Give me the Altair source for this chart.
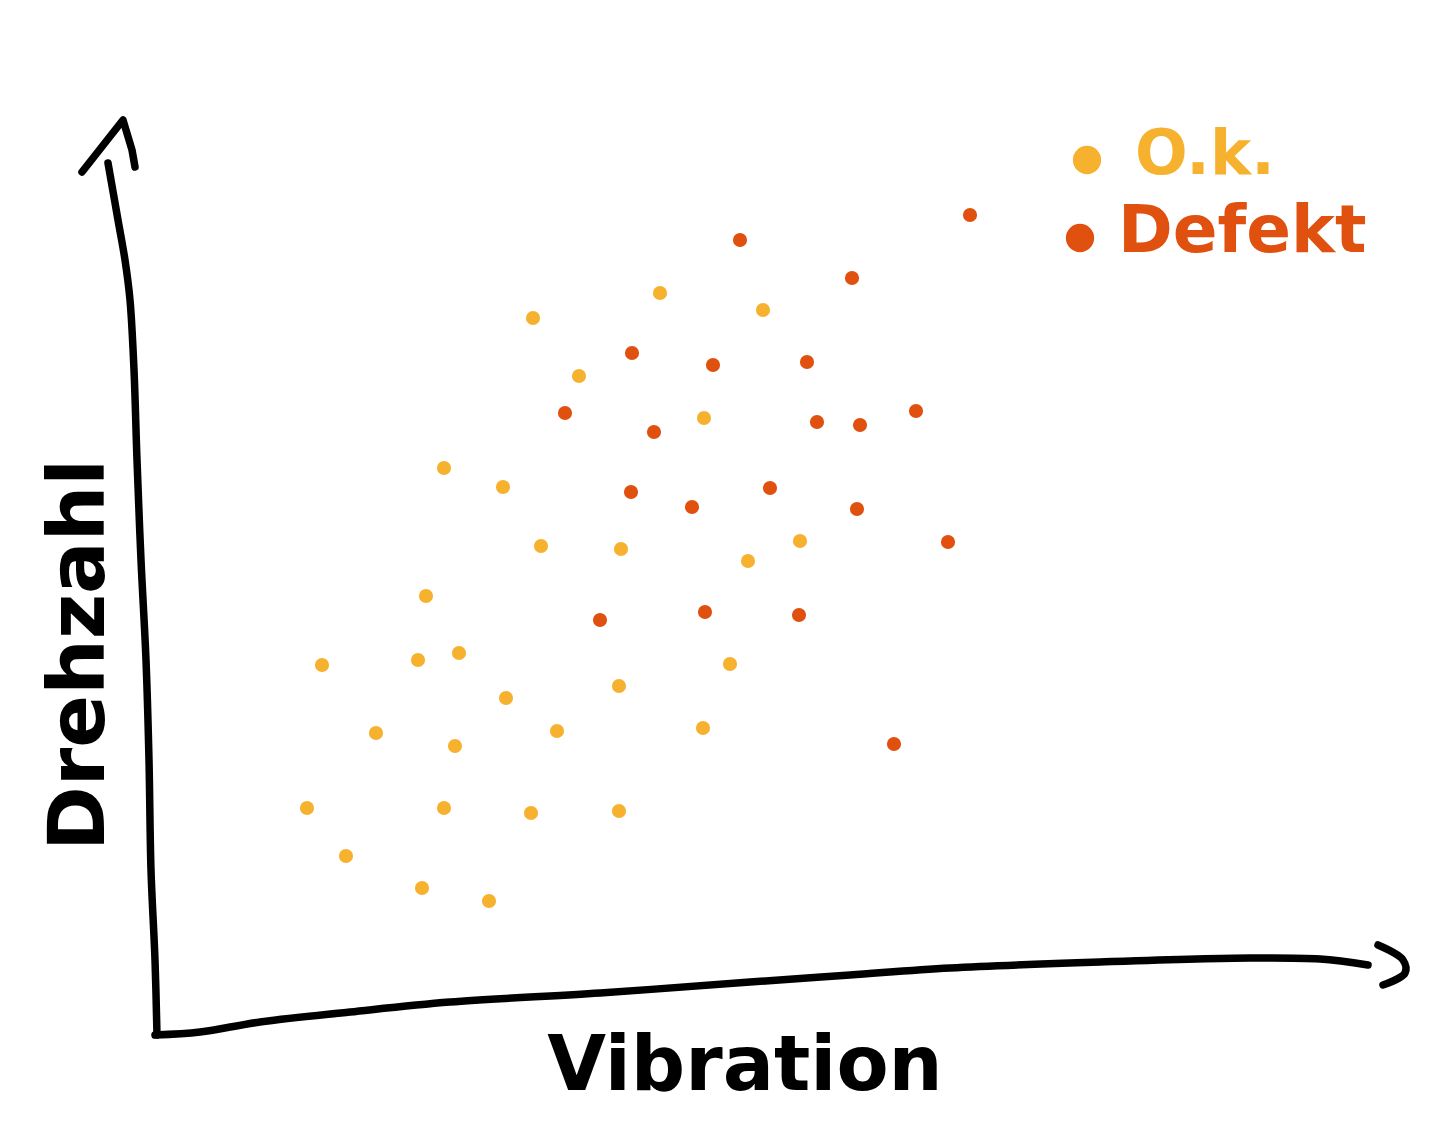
import altair as alt
import pandas as pd

# Data units: Vibration (x) and Drehzahl (y)
ok_x = [3.78, 5.05, 6.08, 4.24, 5.49, 2.89, 3.48, 3.86, 4.66, 5.93, 6.45, 2.71, 1.67, 2.63, 3.04,
        5.75, 3.51, 4.64, 2.21, 3.00, 4.02, 5.48, 1.52, 2.89, 3.76, 4.64, 1.91, 2.67, 3.34]
ok_y = [7.17, 7.42, 7.25, 6.59, 6.17, 5.67, 5.48, 4.89, 4.86, 4.74, 4.94, 4.39, 3.70, 3.75, 3.82,
        3.71, 3.37, 3.49, 3.02, 2.89, 3.04, 3.07, 2.27, 2.27, 2.22, 2.24, 1.79, 1.47, 1.34]
def_x = [8.15, 5.85, 6.97, 4.77, 5.58, 6.52, 4.10, 4.99, 6.62, 7.05, 7.61, 4.76, 5.37, 6.15,
         7.02, 7.93, 4.45, 5.50, 6.44, 7.39]
def_y = [8.20, 7.95, 7.57, 6.82, 6.70, 6.73, 6.22, 6.03, 6.13, 6.10, 6.24, 5.43, 5.28, 5.47,
         5.26, 4.93, 4.15, 4.23, 4.20, 2.91]

categories = ["O.k.", "Defekt"]
colors = ["#F6B22E", "#E0500F"]

# hand-drawn axis strokes (data units)
yaxis_x = [0.02, 0.00, -0.04, -0.06, -0.09, -0.14, -0.18, -0.21, -0.25, -0.30, -0.37, -0.47]
yaxis_y = [0.00, 0.75, 1.65, 2.75, 3.75, 4.75, 5.75, 6.65, 7.35, 7.75, 8.15, 8.72]
yhead_x = [-0.73, -0.32, -0.23, -0.20]
yhead_y = [8.63, 9.15, 8.85, 8.68]
xaxis_x = [0.00, 0.45, 1.05, 1.95, 2.95, 4.45, 5.95, 6.95, 7.95, 9.45, 10.95, 11.65, 12.13]
xaxis_y = [0.00, 0.03, 0.13, 0.23, 0.33, 0.42, 0.53, 0.60, 0.67, 0.73, 0.77, 0.76, 0.70]
xhead_x = [12.23, 12.48, 12.50, 12.28]
xhead_y = [0.90, 0.75, 0.62, 0.50]

XD = [-1.55, 12.83]
YD = [-0.96, 10.35]

pts = pd.DataFrame({
    "Vibration": ok_x + def_x,
    "Drehzahl": ok_y + def_y,
    "Klasse": ["O.k."] * len(ok_x) + ["Defekt"] * len(def_x),
})

xs = alt.Scale(domain=XD, nice=False, zero=False)
ys = alt.Scale(domain=YD, nice=False, zero=False)
cs = alt.Scale(domain=categories, range=colors)

points = alt.Chart(pts).mark_circle(size=200, opacity=1).encode(
    x=alt.X("Vibration:Q", scale=xs, axis=None),
    y=alt.Y("Drehzahl:Q", scale=ys, axis=None),
    color=alt.Color("Klasse:N", scale=cs, legend=None),
)

def stroke(xv, yv, interp):
    df = pd.DataFrame({"x": xv, "y": yv, "i": list(range(len(xv)))})
    return alt.Chart(df).mark_line(
        color="black", strokeWidth=7.5, strokeCap="round", strokeJoin="round", interpolate=interp
    ).encode(
        x=alt.X("x:Q", scale=xs, axis=None),
        y=alt.Y("y:Q", scale=ys, axis=None),
        order="i:Q",
    )

ax_y = stroke(yaxis_x, yaxis_y, "catmull-rom")
ax_yh = stroke(yhead_x, yhead_y, "linear")
ax_x = stroke(xaxis_x, xaxis_y, "catmull-rom")
ax_xh = stroke(xhead_x, xhead_y, "catmull-rom")

labels = pd.DataFrame({"x": [5.9], "y": [-0.32], "t": ["Vibration"]})
xlabel = alt.Chart(labels).mark_text(
    fontSize=76, font="DejaVu Sans", fontWeight="bold", color="black", baseline="middle", align="center"
).encode(x=alt.X("x:Q", scale=xs, axis=None), y=alt.Y("y:Q", scale=ys, axis=None), text="t:N")

ylab = pd.DataFrame({"x": [-0.74], "y": [3.80], "t": ["Drehzahl"]})
ylabel = alt.Chart(ylab).mark_text(
    fontSize=78, font="DejaVu Sans", fontWeight="bold", color="black", baseline="middle", align="center", angle=270
).encode(x=alt.X("x:Q", scale=xs, axis=None), y=alt.Y("y:Q", scale=ys, axis=None), text="t:N")

leg_dot = pd.DataFrame({"x": [9.32, 9.25], "y": [8.75, 7.97], "Klasse": categories})
legend_dots = alt.Chart(leg_dot).mark_circle(size=800, opacity=1).encode(
    x=alt.X("x:Q", scale=xs, axis=None), y=alt.Y("y:Q", scale=ys, axis=None),
    color=alt.Color("Klasse:N", scale=cs, legend=None),
)
leg_txt = pd.DataFrame({"x": [9.80, 9.63], "y": [8.80, 8.03], "Klasse": categories})
legend_ok = alt.Chart(leg_txt.iloc[[0]]).mark_text(
    fontSize=62, font="DejaVu Sans", fontWeight="bold", align="left", baseline="middle"
).encode(
    x=alt.X("x:Q", scale=xs, axis=None), y=alt.Y("y:Q", scale=ys, axis=None),
    text="Klasse:N", color=alt.Color("Klasse:N", scale=cs, legend=None),
)
legend_def = alt.Chart(leg_txt.iloc[[1]]).mark_text(
    fontSize=66, font="DejaVu Sans", fontWeight="bold", align="left", baseline="middle"
).encode(
    x=alt.X("x:Q", scale=xs, axis=None), y=alt.Y("y:Q", scale=ys, axis=None),
    text="Klasse:N", color=alt.Color("Klasse:N", scale=cs, legend=None),
)

chart = alt.layer(
    ax_y, ax_yh, ax_x, ax_xh, points, xlabel, ylabel, legend_dots, legend_ok, legend_def
).properties(
    width=1438, height=1131, padding=0, autosize=alt.AutoSizeParams(type="none"),
    background="white",
).configure_view(stroke=None)

chart.save("out.html", embed_options={"renderer": "svg", "actions": False})
